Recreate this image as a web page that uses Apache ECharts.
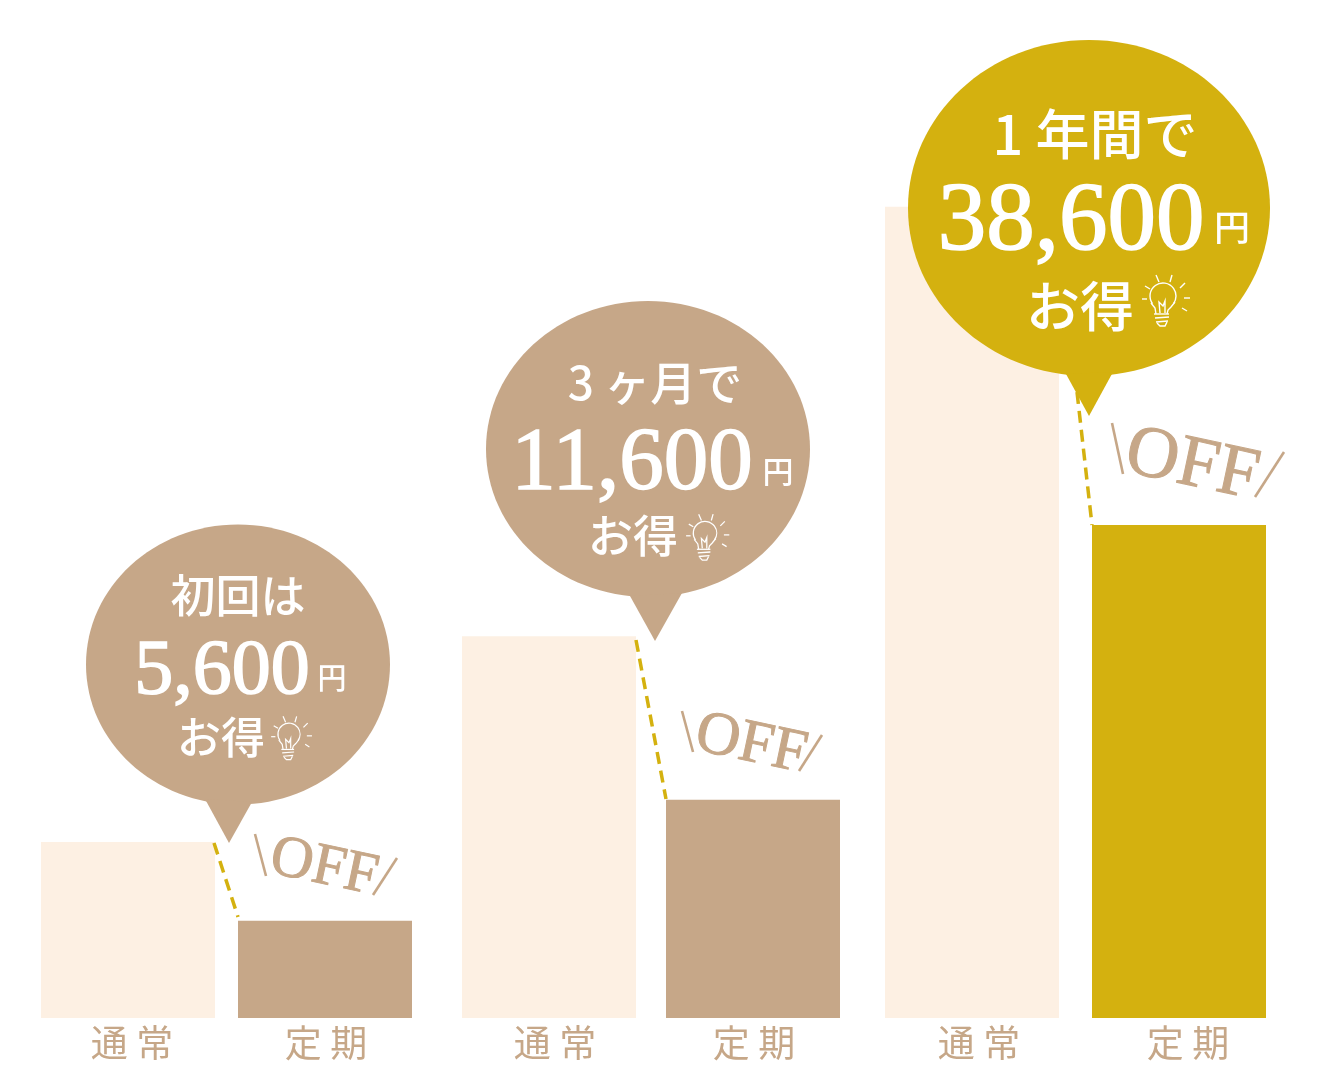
<!DOCTYPE html>
<html><head><meta charset="utf-8">
<style>html,body{margin:0;padding:0;background:#fff}#c{width:1320px;height:1082px}</style>
<script src="https://cdn.jsdelivr.net/npm/echarts@6/dist/echarts.min.js"></script>
</head><body><div id="c"></div>
<script>
const planLabels = ['通 常', '定 期'];
const firstValues = [12500, 6900];
const threeMonthValues = [27100, 15500];
const yearValues = [57600, 35000];
const headlines = ['初回は', '3 ヶ月で', '1 年間で'];
const savings = ['5,600', '11,600', '38,600'];
const yenUnit = '円';
const gainText = 'お得';
const offText = 'OFF';

const CREAM = '#FDF0E3', TAN = '#C6A788', GOLD = '#D4B10F';
const SANS = '"Noto Sans CJK JP","Noto Sans",sans-serif';
const SERIF = '"Liberation Serif",serif';

const grids = [
  {left: 29.5, width: 394, offs: [8, 2]},
  {left: 447, width: 408, offs: [12, 2]},
  {left: 868.5, width: 414, offs: [14, 18]}
];
const seriesValues = [firstValues, threeMonthValues, yearValues];
const accent = [TAN, TAN, GOLD];

function txt(s, x, y, size) {
  return {type: 'text', z: 12, x, y, style: {
    text: s, fill: '#fff', font: '500 ' + size + 'px ' + SANS, align: 'center', verticalAlign: 'middle'
  }};
}
function num(s, x, y, size) {
  return {type: 'text', z: 12, x, y, style: {text: s, fill: '#fff', stroke: '#fff', lineWidth: 1.6,
    font: size + 'px ' + SERIF, align: 'center', verticalAlign: 'middle'}};
}
function bulb(x, y, k) {
  const st = {stroke: '#fff', fill: null, lineWidth: 1.4};
  const segs = [
    [-7,-22,-4,-15],[9,-22,7,-15],[22,-14,17,-9],[27,1,21,1],[24,14,19,11],[-21,2,-16,2],[-18,-11,-13,-8],
    [-9,17,6,17],[-8,21,6,20],[-7,25,5,24]
  ];
  const polys = [
    [[-7,17],[-8,11],[-12,6]],
    [[12,5],[8,10],[5,13],[4,17]],
    [[-3,16],[-4,5],[0,9],[2,4],[2,16]],
    [[-6,26],[-3,29],[2,29],[4,25]]
  ];
  const children = [
    {type: 'arc', z: 12, shape: {cx: 0, cy: -1, r: 13, startAngle: Math.PI * 0.8, endAngle: Math.PI * 2.2, clockwise: true}, style: st}
  ].concat(
    segs.map(s => ({type: 'line', z: 12, shape: {x1: s[0], y1: s[1], x2: s[2], y2: s[3]}, style: st})),
    polys.map(p => ({type: 'polyline', z: 12, shape: {points: p}, style: st}))
  );
  return {type: 'group', z: 12, x, y, scaleX: k, scaleY: k, children};
}
function bubble(cx, cy, rx, ry, tail, color) {
  return [
    {type: 'ellipse', z: 10, shape: {cx, cy, rx, ry}, style: {fill: color}},
    {type: 'polygon', z: 10, shape: {points: tail}, style: {fill: color}}
  ];
}
function dash(x1, y1, x2, y2) {
  return {type: 'line', z: 5, shape: {x1, y1, x2, y2}, style: {stroke: GOLD, lineWidth: 3.5, lineDash: [12, 7]}};
}
function off(cx, cy, size, rotDeg, s1, s2) {
  const ln = p => ({type: 'line', z: 6, shape: {x1: p[0], y1: p[1], x2: p[2], y2: p[3]}, style: {stroke: TAN, lineWidth: 2.6}});
  return [
    {type: 'text', z: 6, x: cx, y: cy, rotation: rotDeg * Math.PI / 180,
      style: {text: offText, fill: TAN, stroke: TAN, lineWidth: 1, font: size + 'px ' + SERIF, align: 'center', verticalAlign: 'middle'}},
    ln(s1), ln(s2)
  ];
}

const graphics = [].concat(
  dash(214, 843, 238, 917), dash(636, 640, 666, 799), dash(1077, 392, 1092, 525),
  bubble(238, 664.5, 152, 140, [[205, 799], [229, 843], [252, 802]], TAN),
  bubble(648, 449, 162, 148, [[630, 596], [655, 641], [682, 593]], TAN),
  bubble(1089, 208, 181, 168, [[1066, 374], [1089, 416], [1113, 372]], GOLD),
  off(324, 868, 59, -12, [255, 834, 266, 876], [397, 858, 373, 895]),
  off(751, 745, 61, -12, [682, 711, 693, 752], [822, 735, 799, 771]),
  off(1192, 466, 73, -12, [1112, 423, 1123, 474], [1284, 452, 1255, 497]),
  [
    txt(headlines[0], 238, 596, 45),
    num(savings[0], 222, 673, 78),
    txt(yenUnit, 332, 678, 29),
    txt(gainText, 221, 737, 44),
    bulb(289, 735, 0.85),

    txt(headlines[1], 655, 383, 46),
    num(savings[1], 632, 465, 89),
    txt(yenUnit, 778, 471, 31),
    txt(gainText, 633, 536, 45),
    bulb(705, 534, 0.9),

    txt(headlines[2], 1095, 134, 54),
    num(savings[2], 1071, 224, 97),
    txt(yenUnit, 1232, 227, 36),
    txt(gainText, 1080, 306, 54),
    bulb(1163, 297, 1)
  ]
);

const chart = echarts.init(document.getElementById('c'), null, {renderer: 'canvas'});
chart.setOption({
  animation: false,
  backgroundColor: '#fff',
  grid: grids.map(g => ({left: g.left, width: g.width, top: 4, bottom: 64})),
  xAxis: grids.map((g, i) => ({
    type: 'category', gridIndex: i,
    data: planLabels.map((v, j) => ({value: v, textStyle: {padding: [0, 0, 0, g.offs[j]]}})),
    axisLine: {show: false}, axisTick: {show: false},
    axisLabel: {color: TAN, fontFamily: SANS, fontWeight: 400, fontSize: 37, margin: 6, interval: 0}
  })),
  yAxis: grids.map((g, i) => ({type: 'value', gridIndex: i, min: 0, max: 72000, show: false})),
  series: seriesValues.map((vals, i) => ({
    type: 'bar', xAxisIndex: i, yAxisIndex: i, barWidth: 174, silent: true,
    data: vals.map((v, j) => ({value: v, itemStyle: {color: j === 0 ? CREAM : accent[i]}}))
  })),
  graphic: {elements: graphics}
});
</script></body></html>
